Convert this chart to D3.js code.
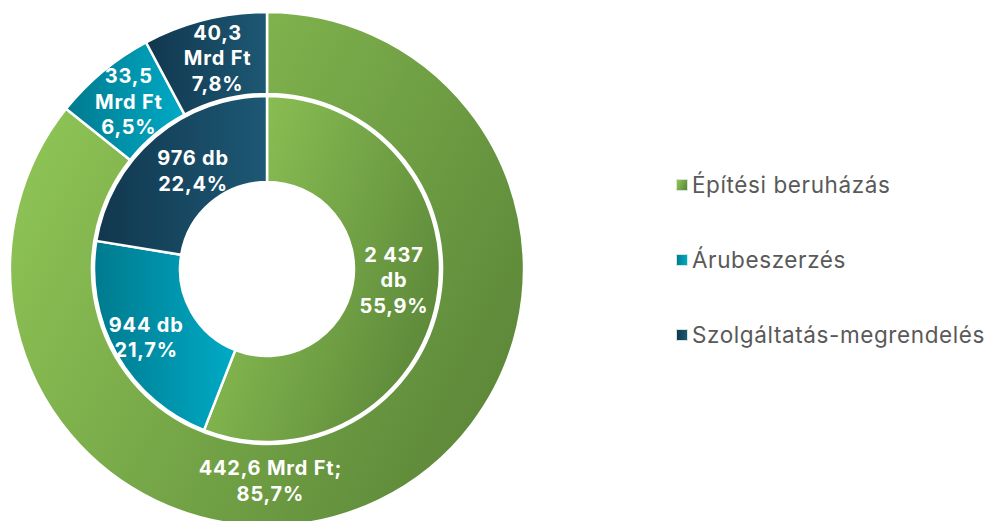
<!DOCTYPE html>
<html>
<head>
<meta charset="utf-8">
<script src="https://cdn.jsdelivr.net/npm/d3@7"></script>
<style>
  html, body { margin: 0; padding: 0; background: #fff; }
  svg { display: block; }
</style>
</head>
<body>
<svg id="chart" width="988" height="521"></svg>
<script>
// ---- data ----
const categories = ["Építési beruházás", "Árubeszerzés", "Szolgáltatás-megrendelés"];
const valueMrdFt = [442.6, 33.5, 40.3];
const valuePctOuter = ["85,7%", "6,5%", "7,8%"];
const valueLabelOuter = ["442,6 Mrd Ft;", "33,5\nMrd Ft", "40,3\nMrd Ft"];
const countDb = [2437, 944, 976];
const countLabelInner = ["2 437\ndb", "944 db", "976 db"];
const valuePctInner = ["55,9%", "21,7%", "22,4%"];

// ---- styles ----
const gradColors = {
  "Építési beruházás": ["#8fc556", "#5b8638"],
  "Árubeszerzés": ["#007a8e", "#00aac6"],
  "Szolgáltatás-megrendelés": ["#11374e", "#1d5874"]
};

const svg = d3.select("#chart");
const defs = svg.append("defs");
categories.forEach((c, i) => {
  const g = defs.append("linearGradient").attr("id", "g" + i)
    .attr("x1", 0).attr("y1", i === 0 ? 0.25 : 0.5)
    .attr("x2", 1).attr("y2", i === 0 ? 0.75 : 0.5);
  g.append("stop").attr("offset", "0%").attr("stop-color", gradColors[c][0]);
  g.append("stop").attr("offset", "100%").attr("stop-color", gradColors[c][1]);
});

const cx = 267, cy = 269;
const root = svg.append("g").attr("transform", `translate(${cx},${cy})`);

const pie = d3.pie().sort(null).value(d => d.v);
const outerArcs = pie(categories.map((c, i) => ({ c, i, v: valueMrdFt[i] })));
const innerArcs = pie(categories.map((c, i) => ({ c, i, v: countDb[i] })));

const outerArc = d3.arc().innerRadius(175).outerRadius(257);
const innerArc = d3.arc().innerRadius(87).outerRadius(173);

root.append("g").selectAll("path").data(outerArcs).join("path")
  .attr("d", outerArc)
  .attr("fill", d => `url(#g${d.data.i})`)
  .attr("stroke", "#fff").attr("stroke-width", 2.5).attr("stroke-linejoin", "round");

root.append("g").selectAll("path").data(innerArcs).join("path")
  .attr("d", innerArc)
  .attr("fill", d => `url(#g${d.data.i})`)
  .attr("stroke", "#fff").attr("stroke-width", 2.5).attr("stroke-linejoin", "round");

const fontFam = "Inter, 'Noto Sans', sans-serif";
const lineH = 25.5;

function drawLabel(x, y, lines) {
  const t = root.append("text")
    .attr("text-anchor", "middle")
    .attr("font-family", fontFam)
    .attr("font-weight", 700)
    .attr("font-size", 20)
    .attr("letter-spacing", 0.8)
    .attr("fill", "#fff");
  const n = lines.length;
  lines.forEach((ln, k) => {
    t.append("tspan").attr("x", x)
      .attr("y", y + (k - (n - 1) / 2) * lineH)
      .attr("dy", "0.35em")
      .text(ln);
  });
}

// inner labels
const innerLabelArc = d3.arc().innerRadius(105).outerRadius(173);
innerArcs.forEach((d, i) => {
  let [x, y] = innerLabelArc.centroid(d);
  const lines = countLabelInner[i].split("\n").concat([valuePctInner[i]]);
  if (i === 0) { x = 127; y = 11; }
  if (i === 2) { x += 16; y += 8; }
  drawLabel(x, y, lines);
});

// outer labels
const outerLabelArc = d3.arc().innerRadius(175).outerRadius(257);
outerArcs.forEach((d, i) => {
  let [x, y] = outerLabelArc.centroid(d);
  if (i === 0) {
    const a = Math.PI * 0.995, r = 212;
    x = r * Math.sin(a); y = -r * Math.cos(a);
  }
  if (i === 2) { x += 3; }
  const lines = valueLabelOuter[i].split("\n").concat([valuePctOuter[i]]);
  drawLabel(x, y + (i === 0 ? 0 : -1), lines);
});

// legend
const legend = svg.append("g").attr("transform", "translate(676,185)");
categories.forEach((c, i) => {
  const row = legend.append("g").attr("transform", `translate(0,${i * 75})`);
  row.append("rect").attr("x", 0.5).attr("y", -5.5).attr("width", 11).attr("height", 11)
    .attr("fill", `url(#g${i})`)
    .attr("stroke", "#d3e6dc").attr("stroke-width", 1);
  row.append("text").attr("x", 16).attr("y", 0).attr("dy", "0.35em")
    .attr("font-family", fontFam).attr("font-size", 22.5)
    .attr("letter-spacing", 0.6)
    .attr("fill", "#595959").text(c);
});
</script>
</body>
</html>
